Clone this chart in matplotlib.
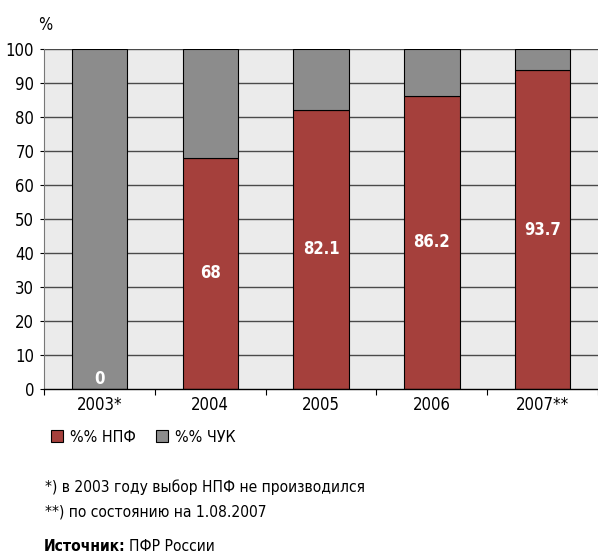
import matplotlib.pyplot as plt
from matplotlib.patches import Patch
import numpy as np

plt.rcParams['font.family'] = ['DejaVu Sans']
plt.rcParams['font.stretch'] = 'condensed'

# data
years = ['2003*', '2004', '2005', '2006', '2007**']
npf = [0, 68, 82.1, 86.2, 93.7]
chuk = [100 - v for v in npf]
value_labels = ['0', '68', '82.1', '86.2', '93.7']

red = '#a5403c'
grey = '#8c8c8c'

fig = plt.figure(figsize=(5.98, 5.55), dpi=100)
ax = fig.add_axes([0.0736, 0.2991, 0.9264, 0.6126])
ax.set_facecolor('#ebebeb')

x = np.arange(len(years))
for yv in range(10, 101, 10):
    ax.axhline(yv, color='#4a4a4a', lw=1.0, zorder=1)

ax.bar(x, npf, width=0.5, color=red, edgecolor='black', linewidth=0.8, zorder=2)
ax.bar(x, chuk, width=0.5, bottom=npf, color=grey, edgecolor='black', linewidth=0.8, zorder=2)

for xi, v, lab in zip(x, npf, value_labels):
    if v > 0:
        ax.text(xi, v / 2, lab, ha='center', va='center', color='white',
                fontsize=12, fontweight='bold', zorder=3)
    else:
        ax.text(xi, 0.3, lab, ha='center', va='bottom', color='white',
                fontsize=12, fontweight='bold', zorder=3)

ax.set_xlim(-0.5, 4.5)
ax.set_ylim(0, 100)
ax.set_yticks(range(0, 101, 10))
ax.tick_params(axis='y', labelsize=12, length=3, width=0.8, pad=4)
ax.set_xticks(x)
ax.set_xticklabels(years, fontsize=12)
ax.tick_params(axis='x', length=0, pad=5)
ax.set_xticks(np.arange(-0.5, 4.6, 1), minor=True)
ax.tick_params(axis='x', which='minor', length=4, width=0.8, direction='out')

for side in ['top', 'right']:
    ax.spines[side].set_visible(False)
ax.spines['left'].set_color('#777777')
ax.spines['bottom'].set_color('black')
ax.spines['bottom'].set_linewidth(1.0)

fig.text(0.0636, 0.955, '%', fontsize=12, ha='left', va='center')

handles = [Patch(facecolor=red, edgecolor='black', linewidth=0.8, label='%% НПФ'),
           Patch(facecolor=grey, edgecolor='black', linewidth=0.8, label='%% ЧУК')]
fig.legend(handles=handles, loc='center left', bbox_to_anchor=(0.062, 0.212), ncol=2,
           frameon=False, fontsize=11.5, handlelength=0.75, handleheight=0.75,
           handletextpad=0.4, columnspacing=1.3)

fig.text(0.076, 0.123, '*) в 2003 году выбор НПФ не производился', fontsize=11.2, va='center')
fig.text(0.076, 0.078, '**) по состоянию на 1.08.2007', fontsize=11.2, va='center')
src = fig.text(0.0736, 0.016, 'Источник:', fontsize=11.2, fontweight='bold', va='center')

# put the plain part right after the bold word
fig.canvas.draw()
bb = src.get_window_extent().transformed(fig.transFigure.inverted())
fig.text(bb.x1 + 0.006, 0.016, 'ПФР России', fontsize=11.2, va='center')

plt.savefig('out.png', dpi=100)
